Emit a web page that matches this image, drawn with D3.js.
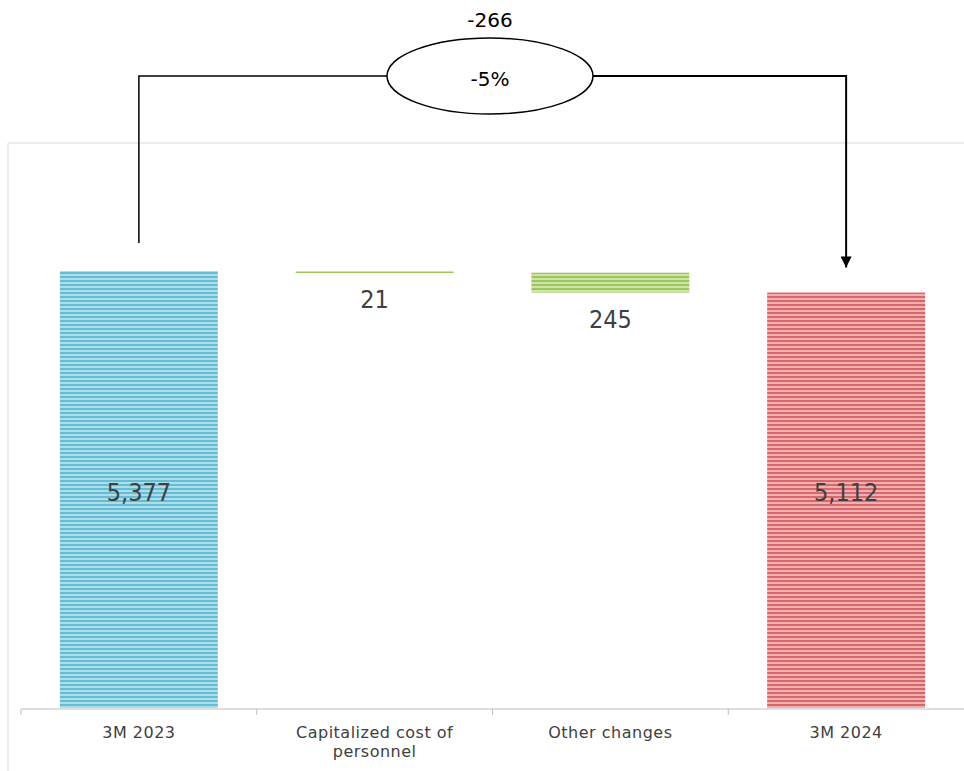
<!DOCTYPE html>
<html>
<head>
<meta charset="utf-8">
<script src="https://cdn.jsdelivr.net/npm/d3@7"></script>
<style>
body { margin: 0; background: #fff; }
text { font-family: "DejaVu Sans Condensed", "DejaVu Sans", sans-serif; fill: #404040; }
</style>
</head>
<body>
<div id="container"></div>
<script>
var w = 964
var h = 771

// data
var categories = ["3M 2023", "Capitalized cost of|personnel", "Other changes", "3M 2024"]
var values = [5377, -21, -245, 5112]
var kinds = ["total", "delta", "delta", "total"]
var diffLabel = "-266"
var pctLabel = "-5%"

var svg = d3.select("#container").append("svg")
    .attr("width", w)
    .attr("height", h)

// stripe patterns
var defs = svg.append("defs")
function stripes(id, dark, light) {
    var p = defs.append("pattern")
        .attr("id", id)
        .attr("patternUnits", "userSpaceOnUse")
        .attr("width", 8).attr("height", 4)
    p.append("rect").attr("width", 8).attr("height", 4).attr("fill", light)
    p.append("rect").attr("width", 8).attr("height", 2).attr("fill", dark)
}
stripes("blue", "#62bdd5", "#acdde9")
stripes("green", "#9cc65c", "#cfe4ab")
stripes("red", "#d96668", "#eeb0b0")

// plot frame
svg.append("path")
    .attr("d", "M8,771 L8,143 L964,143")
    .attr("fill", "none")
    .attr("stroke", "#d9d9d9")

var x = d3.scaleBand().domain(categories).range([21, 964]).paddingInner(0.33).paddingOuter(0.165)
var y = d3.scaleLinear().domain([0, 5377]).range([708, 271])

// running totals
var run = 0
var bars = values.map(function (v, i) {
    var b
    if (kinds[i] == "total") {
        b = { start: 0, end: v }
        run = v
    } else {
        b = { start: run, end: run + v }
        run = run + v
    }
    b.cat = categories[i]
    b.value = v
    b.kind = kinds[i]
    return b
})

var fills = ["url(#blue)", "url(#green)", "url(#green)", "url(#red)"]

svg.selectAll("rect.bar")
    .data(bars)
    .enter()
    .append("rect")
    .attr("class", "bar")
    .attr("x", d => x(d.cat))
    .attr("width", x.bandwidth())
    .attr("y", d => y(Math.max(d.start, d.end)))
    .attr("height", d => Math.max(2, Math.abs(y(d.start) - y(d.end))))
    .attr("fill", (d, i) => fills[i])

// value labels (totals share one baseline, deltas sit under their bar)
svg.selectAll("text.val")
    .data(bars)
    .enter()
    .append("text")
    .attr("class", "val")
    .attr("x", d => x(d.cat) + x.bandwidth() / 2)
    .attr("y", function (d) {
        if (d.kind == "total") return y(values[0] / 2) + 11
        return y(Math.min(d.start, d.end)) + 35
    })
    .attr("text-anchor", "middle")
    .style("font-size", "25px")
    .text(d => d3.format(",")(Math.abs(d.value)))

// x axis
var axis = svg.append("g")
    .attr("transform", "translate(0,709)")
axis.append("line")
    .attr("x1", 21).attr("x2", 964)
    .attr("stroke", "#bfbfbf")
axis.selectAll("line.tick")
    .data(d3.range(4))
    .enter()
    .append("line")
    .attr("class", "tick")
    .attr("x1", i => x(categories[i]) - x.step() * x.paddingInner() / 2)
    .attr("x2", i => x(categories[i]) - x.step() * x.paddingInner() / 2)
    .attr("y1", 0).attr("y2", 6)
    .attr("stroke", "#bfbfbf")

var lab = axis.selectAll("text.cat")
    .data(categories)
    .enter()
    .append("text")
    .attr("class", "cat")
    .attr("text-anchor", "middle")
    .attr("x", d => x(d) + x.bandwidth() / 2)
    .attr("y", 29)
    .style("font-family", "'DejaVu Sans', sans-serif")
    .style("font-size", "16px")
    .style("letter-spacing", "0.5px")
lab.selectAll("tspan")
    .data(d => d.split("|"))
    .enter()
    .append("tspan")
    .attr("x", function () { return d3.select(this.parentNode).attr("x") })
    .attr("dy", (d, i) => i == 0 ? 0 : 19)
    .text(d => d)

// bracket with change annotation
var x0 = x(categories[0]) + x.bandwidth() / 2
var x1 = x(categories[3]) + x.bandwidth() / 2
var topY = 76
var cx = 490, cy = 76, rx = 103, ry = 38

defs.append("marker")
    .attr("id", "arrow")
    .attr("viewBox", "0 0 10 10")
    .attr("refX", 10).attr("refY", 5)
    .attr("markerWidth", 12).attr("markerHeight", 11)
    .attr("markerUnits", "userSpaceOnUse")
    .attr("orient", "auto")
    .append("path")
    .attr("d", "M0,0 L10,5 L0,10 z")
    .attr("fill", "#000")

svg.append("path")
    .attr("d", "M" + x0 + "," + (y(bars[0].end) - 28) + " L" + x0 + "," + topY + " L" + (cx - rx) + "," + topY)
    .attr("fill", "none")
    .attr("stroke", "#000")
    .attr("stroke-width", 1.5)

svg.append("path")
    .attr("d", "M" + (cx + rx) + "," + topY + " L" + x1 + "," + topY + " L" + x1 + "," + (y(bars[3].end) - 25))
    .attr("fill", "none")
    .attr("stroke", "#000")
    .attr("stroke-width", 2)
    .attr("marker-end", "url(#arrow)")

svg.append("ellipse")
    .attr("cx", cx).attr("cy", cy)
    .attr("rx", rx).attr("ry", ry)
    .attr("fill", "#fff")
    .attr("stroke", "#000")
    .attr("stroke-width", 1.5)

svg.append("text")
    .attr("x", cx).attr("y", 86)
    .attr("text-anchor", "middle")
    .style("font-family", "'DejaVu Sans', sans-serif")
    .style("font-size", "20px")
    .style("fill", "#000")
    .text(pctLabel)

svg.append("text")
    .attr("x", cx).attr("y", 27)
    .attr("text-anchor", "middle")
    .style("font-family", "'DejaVu Sans', sans-serif")
    .style("font-size", "20px")
    .style("fill", "#000")
    .text(diffLabel)
</script>
</body>
</html>
